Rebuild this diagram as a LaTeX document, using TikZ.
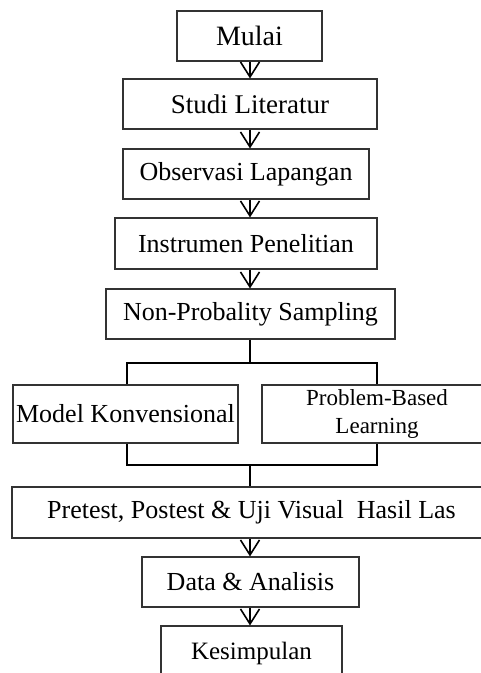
\documentclass[tikz,border=0pt]{standalone}
\usepackage{fontspec}
\setmainfont{Liberation Serif}
\usetikzlibrary{arrows.meta}
\definecolor{boxline}{HTML}{333333}
\tikzset{
  stepbox/.style={draw=boxline, line width=1.1pt, rectangle, inner sep=0pt,
    font=\fontsize{26}{28}\selectfont, text=black},
  flowarrow/.style={draw=black, line width=1.3pt,
    -{Straight Barb[length=15pt,width=19pt,line width=1.6pt]}},
  plainline/.style={draw=black, line width=1.2pt},
}
\begin{document}
\begin{tikzpicture}[x=1pt,y=-1pt]
\useasboundingbox (0,0) rectangle (480,673);
\coordinate (axis) at (250,0);
\coordinate (lft) at (127,0);
\coordinate (rgt) at (377,0);

\node[stepbox, minimum width=145pt, minimum height=50pt, font=\fontsize{28}{30}\selectfont] (mulai) at (249.5,36) {Mulai};
\node[stepbox, minimum width=254pt, minimum height=50pt, font=\fontsize{27}{29}\selectfont] (studi) at (250,104) {Studi Literatur};
\node[stepbox, minimum width=246pt, minimum height=50pt] (obs) at (246,174) {Observasi Lapangan};
\node[stepbox, minimum width=262pt, minimum height=51pt] (ins) at (246,243.5) {Instrumen Penelitian};
\node[stepbox, minimum width=289pt, minimum height=50pt] (np) at (250.5,314) {Non-Probality Sampling};
\node[stepbox, minimum width=225pt, minimum height=58pt] (model) at (125.5,414) {Model Konvensional};
\node[stepbox, minimum width=230pt, minimum height=58pt, align=center, font=\fontsize{23}{28}\selectfont] (pbl) at (377,414) {Problem-Based\\Learning};
\node[stepbox, minimum width=479pt, minimum height=51pt] (pre) at (251.5,512.5) {Pretest, Postest \& Uji Visual\ \ Hasil Las};
\node[stepbox, minimum width=217pt, minimum height=50pt] (data) at (250.5,582) {Data \& Analisis};
\node[stepbox, minimum width=181pt, minimum height=54pt, font=\fontsize{25}{27}\selectfont] (kes) at (251.5,653) {Kesimpulan};

\draw[flowarrow] (mulai.south -| axis) -- (studi.north -| axis);
\draw[flowarrow] (studi.south -| axis) -- (obs.north -| axis);
\draw[flowarrow] (obs.south -| axis) -- (ins.north -| axis);
\draw[flowarrow] (ins.south -| axis) -- (np.north -| axis);

\coordinate (j1) at (250,363);
\coordinate (j2) at (250,465);
\draw[plainline] (np.south -| axis) -- (j1);
\draw[plainline] (model.north -| lft) -- (j1 -| lft) -- (j1 -| rgt) -- (pbl.north -| rgt);
\draw[plainline] (model.south -| lft) -- (j2 -| lft) -- (j2 -| rgt) -- (pbl.south -| rgt);
\draw[plainline] (j2) -- (pre.north -| axis);

\draw[flowarrow] (pre.south -| axis) -- (data.north -| axis);
\draw[flowarrow] (data.south -| axis) -- (kes.north -| axis);
\end{tikzpicture}
\end{document}
